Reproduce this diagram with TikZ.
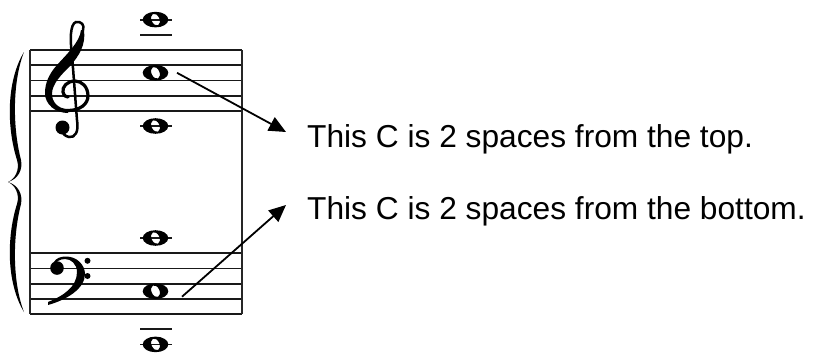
\documentclass[tikz,border=0pt]{standalone}
\usepackage{fontspec}
\setmainfont{Liberation Sans}
\usepackage{tikz}
\usetikzlibrary{arrows.meta}
\newcommand{\wnote}[2]{%
  \fill[even odd rule] (#1,#2) ellipse (12.8 and 7.8)
    [rotate around={25:(#1,#2)}] (#1,#2) ellipse (4 and 6.2);}
\newcommand{\ledger}[1]{\draw[staff] (140,#1) -- (172,#1);}

\begin{document}
\begin{tikzpicture}[
   x=1pt, y=-1pt,
   staff/.style={line width=1.8pt,black!90},
   bar/.style={line width=1.9pt,black!85},
   thin/.style={line width=2.5pt,line cap=round},
   txt/.style={inner sep=0pt,anchor=base west,font=\fontsize{31.7}{38}\selectfont},
   to/.style={-{Triangle[length=17pt,width=15pt]},line width=1.8pt}]
\useasboundingbox (0,0) rectangle (814,354);
% brace
\fill (24,52) .. controls (7,80) and (6,125) .. (17,160)
   .. controls (20,170) and (15,179) .. (8,182)
   .. controls (15,185) and (20,194) .. (17,204)
   .. controls (6,239) and (7,284) .. (24,312)
   .. controls (13,284) and (12,239) .. (21,204)
   .. controls (23,194) and (18,185) .. (8,182)
   .. controls (18,179) and (23,170) .. (21,160)
   .. controls (12,125) and (13,80) .. (24,52) -- cycle;
% staves
\foreach \i in {0,...,4} {
  \draw[staff] (30,50+15.2*\i) -- (242,50+15.2*\i);
  \draw[staff] (30,253.2+15.2*\i) -- (242,253.2+15.2*\i);
}
\draw[bar] (30,50) -- (30,314);
\draw[bar] (242,50) -- (242,314);
% treble clef
\fill (81,30) .. controls (80,42) and (66,55) .. (57,65)
   .. controls (49,74) and (45,83) .. (45,93)
   .. controls (45,105) and (56,113) .. (68,113)
   -- (68,109) .. controls (58,109) and (52,102) .. (52,94)
   .. controls (52,84) and (61,75) .. (70,66)
   .. controls (79,56) and (86,45) .. (84,30) -- cycle;
\draw[thin] (83,30) .. controls (85,25) and (81,21) .. (76,22)
   .. controls (70,24) and (70,40) .. (72,55) -- (77,120)
   .. controls (79,132) and (75,138) .. (69,137)
   .. controls (65,136) and (63,134) .. (62,131);
\draw[thin,line width=3.2pt] (68,110.5) .. controls (80,110.5) and (88,104) .. (88,96)
   .. controls (88,87) and (82,81) .. (75,81)
   .. controls (67,81) and (62,87) .. (63,92)
   .. controls (64,96) and (66,97) .. (68,97);
\fill (62.5,127.5) circle (7);
% bass clef
\fill (54,262) .. controls (56,258) and (61,256.5) .. (66,256.5)
   .. controls (77,256.5) and (85,265) .. (85,274)
   .. controls (85,289) and (66,300) .. (48,305)
   -- (48,302) .. controls (63,296) and (77,287) .. (77,272)
   .. controls (77,264) and (71,259) .. (65,259)
   .. controls (60,259) and (56,262) .. (54,264) -- cycle;
\fill (57,268) circle (6.8);
\fill (87.5,260.8) circle (3) (87.5,276) circle (3);
% notes
\ledger{19.6} \ledger{34.8} \ledger{126} \ledger{238} \ledger{329.2} \ledger{344.4}
\foreach \y in {19.6,72.8,126,238,291.2,344.4}
  \wnote{155.5}{\y};
\coordinate (cHigh) at (177,72.8);
\coordinate (cLow) at (182,296.7);
\node[txt] (top) at (307,147) {This C is 2 spaces from the top.};
\node[txt] (bottom) at (307,219) {This C is 2 spaces from the bottom.};
\coordinate (topEnd) at (286,132);
\coordinate (bottomEnd) at (286,205);
\draw[to] (cHigh) -- (topEnd);
\draw[to] (cLow) -- (bottomEnd);
\end{tikzpicture}
\end{document}
